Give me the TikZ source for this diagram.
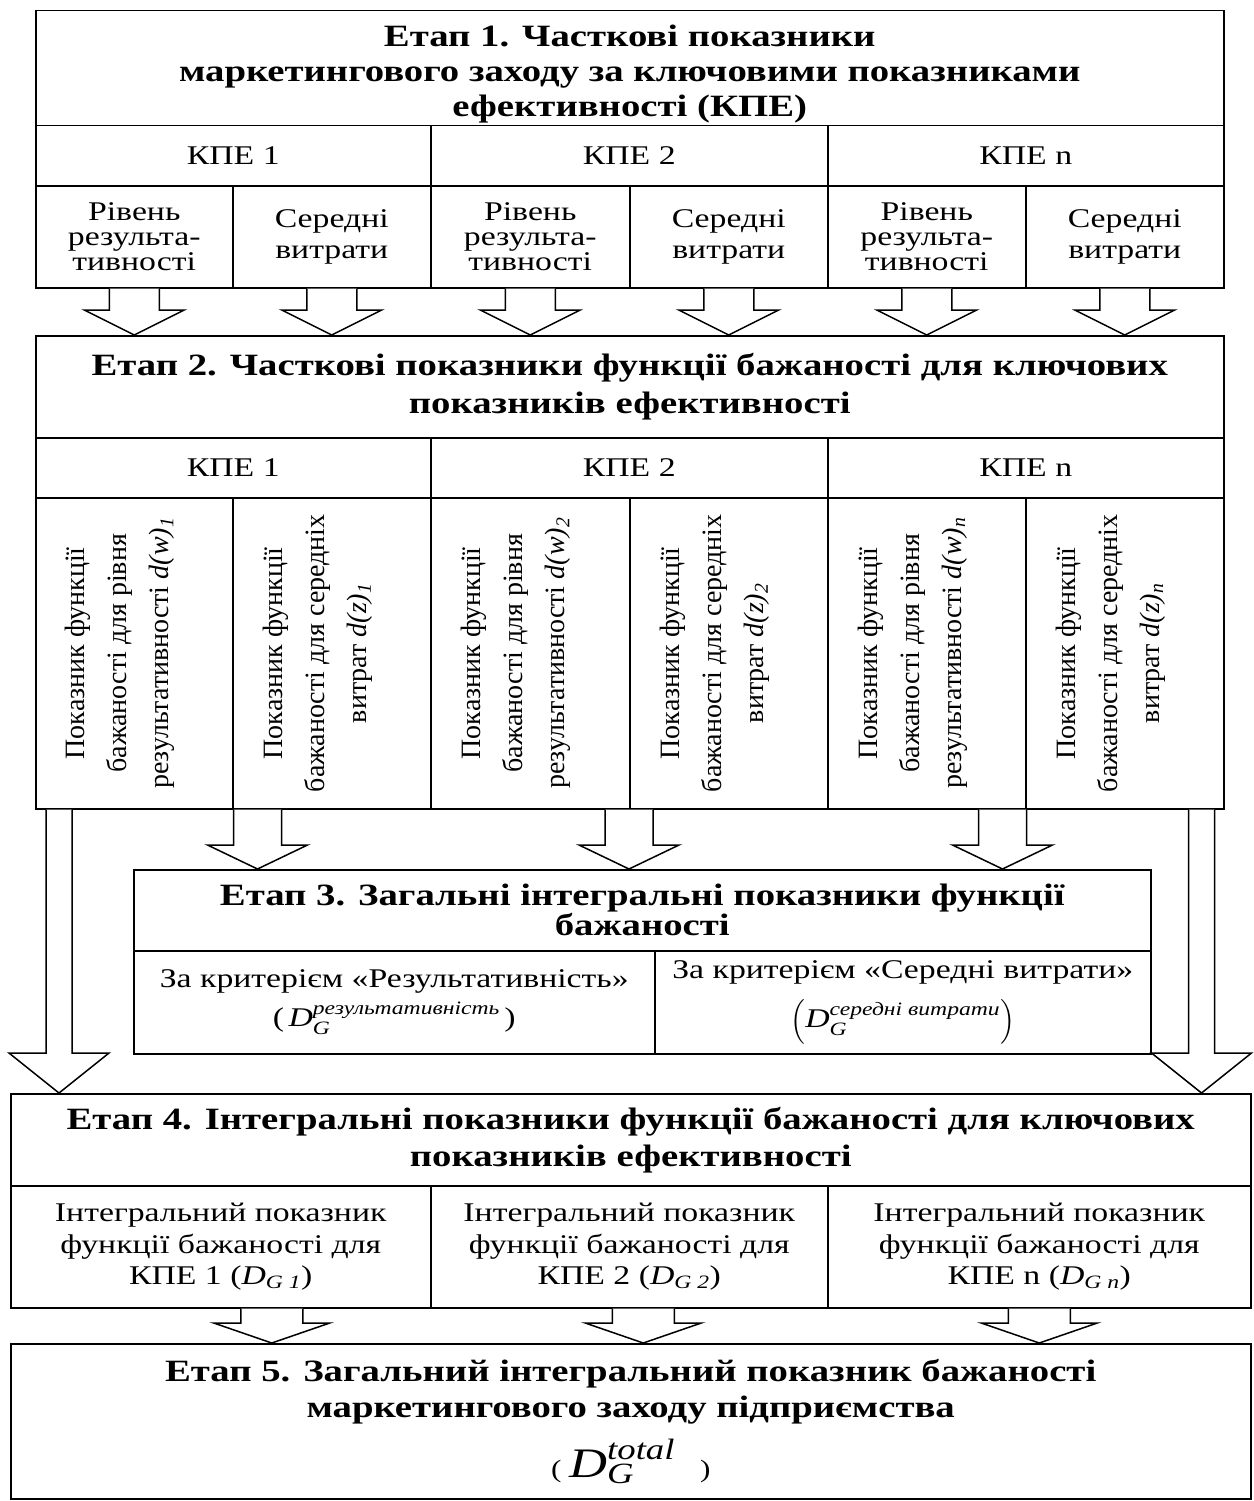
\documentclass[tikz,border=0pt]{standalone}
\usepackage{fontspec}
\usepackage{amsmath}
\setmainfont{Liberation Serif}[FakeStretch=1.25]
\newfontfamily\rotfont{Liberation Serif}
\usetikzlibrary{calc}

% block arrow: start, target anchor, half shaft, half head, head length
\newcommand{\blockarrow}[5]{%
  \draw[blockarr] let \p1=(#1), \p2=(#1 |- #2) in
    (\x1-#3,\y1) -- (\x1-#3,\y2+#5) -- (\x1-#4,\y2+#5) -- (\x1,\y2)
    -- (\x1+#4,\y2+#5) -- (\x1+#3,\y2+#5) -- (\x1+#3,\y1);}

\begin{document}
\begin{tikzpicture}[x=1pt,y=-1pt,
  cell/.style={draw, line width=1.5pt, anchor=north west, inner sep=2pt, align=center,
    font=\fontsize{27}{31}\selectfont},
  titlecell/.style={cell, font=\fontsize{31}{37}\selectfont\bfseries},
  subcell/.style={cell, minimum height=102},
  vtext/.style={rotate=90, align=center, font=\rotfont\fontsize{28}{42}\selectfont},
  blockarr/.style={draw, line width=1.5pt, fill=white}]
\useasboundingbox (0,0) rectangle (1253,1501);

% Етап 1
\node[titlecell, minimum width=1188, minimum height=115, inner ysep=0pt, font=\fontsize{31}{35}\selectfont\bfseries] (e1) at (35,10)
  {\rule{0pt}{34pt}Етап 1. Часткові показники\\маркетингового заходу за ключовими показниками\\ефективності (КПЕ)};
\node[cell, minimum width=395, minimum height=60] (e1k1) at (35,125) {КПЕ 1};
\node[cell, minimum width=397, minimum height=60] (e1k2) at (430,125) {КПЕ 2};
\node[cell, minimum width=396, minimum height=60] (e1k3) at (827,125) {КПЕ n};
\node[subcell, minimum width=197, font=\fontsize{27}{25}\selectfont] (e1r1) at (35,185) {Рівень\\результа-\\тивності};
\node[subcell, minimum width=198, font=\fontsize{27}{31}\selectfont] (e1s1) at (232,185) {Середні\\витрати};
\node[subcell, minimum width=199, font=\fontsize{27}{25}\selectfont] (e1r2) at (430,185) {Рівень\\результа-\\тивності};
\node[subcell, minimum width=198, font=\fontsize{27}{31}\selectfont] (e1s2) at (629,185) {Середні\\витрати};
\node[subcell, minimum width=198, font=\fontsize{27}{25}\selectfont] (e1r3) at (827,185) {Рівень\\результа-\\тивності};
\node[subcell, minimum width=198, font=\fontsize{27}{31}\selectfont] (e1s3) at (1025,185) {Середні\\витрати};

% Етап 2
\node[titlecell, minimum width=1188, minimum height=102, font=\fontsize{31}{38}\selectfont\bfseries] (e2) at (35,335)
  {Етап 2. Часткові показники функції бажаності для ключових\\показників ефективності};
\node[cell, minimum width=395, minimum height=60] (e2k1) at (35,437) {КПЕ 1};
\node[cell, minimum width=397, minimum height=60] (e2k2) at (430,437) {КПЕ 2};
\node[cell, minimum width=396, minimum height=60] (e2k3) at (827,437) {КПЕ n};
\node[cell, minimum width=197, minimum height=311] (e2r1) at (35,497) {};
\node[cell, minimum width=198, minimum height=311] (e2s1) at (232,497) {};
\node[cell, minimum width=199, minimum height=311] (e2r2) at (430,497) {};
\node[cell, minimum width=198, minimum height=311] (e2s2) at (629,497) {};
\node[cell, minimum width=198, minimum height=311] (e2r3) at (827,497) {};
\node[cell, minimum width=198, minimum height=311] (e2s3) at (1025,497) {};
\node[vtext] (t1) at ([xshift=-14]e2r1.center) {Показник функції\\бажаності для рівня\\результативності \textit{d(w)}\textsubscript{\textit{1}}};
\node[vtext] (t2) at ([xshift=-14]e2s1.center) {Показник функції\\бажаності для середніх\\витрат \textit{d(z)}\textsubscript{\textit{1}}};
\node[vtext] (t3) at ([xshift=-14]e2r2.center) {Показник функції\\бажаності для рівня\\результативності \textit{d(w)}\textsubscript{\textit{2}}};
\node[vtext] (t4) at ([xshift=-14]e2s2.center) {Показник функції\\бажаності для середніх\\витрат \textit{d(z)}\textsubscript{\textit{2}}};
\node[vtext] (t5) at ([xshift=-14]e2r3.center) {Показник функції\\бажаності для рівня\\результативності \textit{d(w)}\textsubscript{\textit{n}}};
\node[vtext] (t6) at ([xshift=-14]e2s3.center) {Показник функції\\бажаності для середніх\\витрат \textit{d(z)}\textsubscript{\textit{n}}};

% Етап 3
\node[titlecell, minimum width=1017, minimum height=81, font=\fontsize{31}{28}\selectfont\bfseries] (e3) at (133,869)
  {Етап 3. Загальні інтегральні показники функції\\бажаності};
\node[cell, minimum width=521, minimum height=103] (e3r) at (133,950)
  {За критерієм «Результативність»\\[8pt](\,$\textit{D}_{\textit{G}}^{\textit{результативність}}$\,)};
\node[cell, minimum width=496, minimum height=103] (e3s) at (654,950)
  {За критерієм «Середні витрати»\\[14pt]$\left(\textit{D}_{\textit{G}}^{\textit{середні витрати}}\right)$};

% Етап 4
\node[titlecell, minimum width=1240, minimum height=92, font=\fontsize{31}{37}\selectfont\bfseries] (e4) at (10,1093)
  {Етап 4. Інтегральні показники функції бажаності для ключових\\показників ефективності};
\node[cell, minimum width=420, minimum height=122, font=\fontsize{27}{31.5}\selectfont] (e4k1) at (10,1185)
  {Інтегральний показник\\функції бажаності для\\КПЕ 1 (\textit{D}\textsubscript{\textit{G 1}})};
\node[cell, minimum width=397, minimum height=122, font=\fontsize{27}{31.5}\selectfont] (e4k2) at (430,1185)
  {Інтегральний показник\\функції бажаності для\\КПЕ 2 (\textit{D}\textsubscript{\textit{G 2}})};
\node[cell, minimum width=423, minimum height=122, font=\fontsize{27}{31.5}\selectfont] (e4k3) at (827,1185)
  {Інтегральний показник\\функції бажаності для\\КПЕ n (\textit{D}\textsubscript{\textit{G n}})};

% Етап 5
\node[titlecell, minimum width=1240, minimum height=155, font=\fontsize{31}{36}\selectfont\bfseries] (e5) at (10,1343)
  {Етап 5. Загальний інтегральний показник бажаності\\маркетингового заходу підприємства\\[14pt]
   {\mdseries\fontsize{25}{30}\selectfont( {\fontsize{42}{42}\selectfont$\textit{D}_{\textit{G}}^{\textit{total}}$}\quad)}};

% стрілки
\foreach \c in {e1r1,e1s1,e1r2,e1s2,e1r3,e1s3}{
  \blockarrow{\c.south}{e2.north}{25pt}{50pt}{25pt}}

\coordinate (a1) at ([xshift=24pt]e2r1.south east);
\coordinate (a2) at (e2s2.south west);
\coordinate (a3) at ([xshift=-24pt]e2r3.south east);
\foreach \c in {a1,a2,a3}{
  \blockarrow{\c}{e3.north}{24pt}{50pt}{24pt}}

\coordinate (l1) at ([xshift=24pt]e2r1.south west);
\coordinate (l2) at ([xshift=-23pt]e2s3.south east);
\blockarrow{l1}{e4.north}{13pt}{50pt}{40pt}
\blockarrow{l2}{e4.north}{13pt}{50pt}{40pt}

\coordinate (b1) at ([xshift=51pt]e4k1.south);
\coordinate (b2) at ([xshift=14pt]e4k2.south);
\coordinate (b3) at (e4k3.south);
\foreach \c in {b1,b2,b3}{
  \blockarrow{\c}{e5.north}{31pt}{58pt}{20pt}}
\end{tikzpicture}
\end{document}
